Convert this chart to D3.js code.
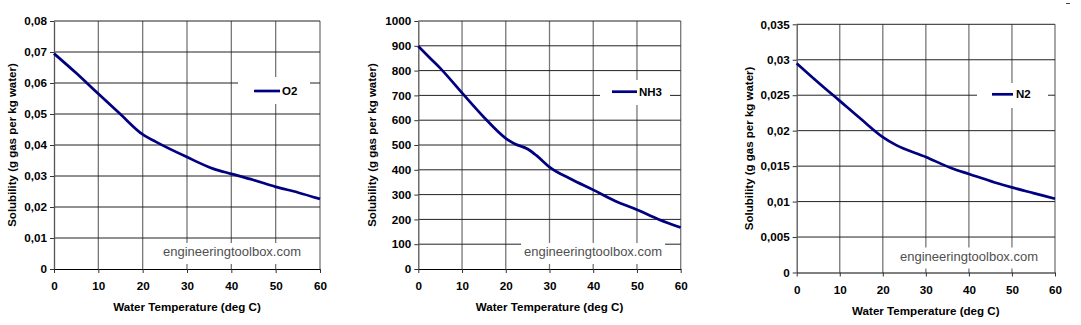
<!DOCTYPE html>
<html><head><meta charset="utf-8">
<script src="https://cdn.jsdelivr.net/npm/d3@7"></script>
<style>
html,body{margin:0;padding:0;background:#fff;}
svg{display:block;font-family:"Liberation Sans",Arial,sans-serif;}
</style></head>
<body>
<svg id="c" width="1081" height="325"></svg>
<script>
// ---------- data ----------
const xTicks = [0, 10, 20, 30, 40, 50, 60];

const tempsO2 = [0, 5, 10, 15, 20, 23, 30, 36, 40, 45, 50, 55, 60];
const valuesO2 = [0.0695, 0.0632, 0.0565, 0.0499, 0.0434, 0.0410, 0.0361, 0.0323, 0.0307, 0.0287, 0.0265, 0.0247, 0.0226];
const yTicksO2 = [0, 0.01, 0.02, 0.03, 0.04, 0.05, 0.06, 0.07, 0.08];

const tempsNH3 = [0, 3, 5, 10, 15, 20, 22, 25, 27, 30, 35, 40, 45, 50, 55, 60];
const valuesNH3 = [898, 845, 810, 710, 612, 527, 505, 484, 458, 411, 362, 319, 274, 239, 200, 167];
const yTicksNH3 = [0, 100, 200, 300, 400, 500, 600, 700, 800, 900, 1000];

const tempsN2 = [0, 5, 10, 15, 20, 23, 30, 36, 40, 46, 50, 55, 60];
const valuesN2 = [0.0295, 0.0268, 0.0242, 0.0216, 0.0191, 0.0180, 0.0163, 0.0147, 0.0139, 0.0127, 0.0120, 0.0112, 0.0104];
const yTicksN2 = [0, 0.005, 0.01, 0.015, 0.02, 0.025, 0.03, 0.035];

const seriesNames = ["O2", "NH3", "N2"];
const xTitle = "Water Temperature (deg C)";
const yTitle = "Solubility (g gas per kg water)";
const watermark = "engineeringtoolbox.com";

// ---------- layout ----------
const charts = [
  {name: seriesNames[0], temps: tempsO2, values: valuesO2, yTicks: yTicksO2,
   L: 54, R: 320, T: 21, B: 269, yTitleX: 12,
   leg: {x: 238, y: 77, w: 72, h: 27, lx1: 254, lx2: 280, ly: 91, tx: 282},
   wm: {x: 163, y: 256}},
  {name: seriesNames[1], temps: tempsNH3, values: valuesNH3, yTicks: yTicksNH3,
   L: 418.3, R: 680.7, T: 21, B: 269, yTitleX: 372,
   leg: {x: 600, y: 80, w: 70, h: 25, lx1: 612, lx2: 637, ly: 91.7, tx: 639},
   wm: {x: 524, y: 256}},
  {name: seriesNames[2], temps: tempsN2, values: valuesN2, yTicks: yTicksN2,
   L: 796.7, R: 1055, T: 24.3, B: 272.5, yTitleX: 748.5,
   leg: {x: 977, y: 83, w: 71, h: 25, lx1: 992, lx2: 1013, ly: 94.3, tx: 1016},
   wm: {x: 900, y: 260.5}}
];

const svg = d3.select("#c");
const fmt = v => String(v).replace(".", ",");

charts.forEach(c => {
  const x = d3.scaleLinear().domain([0, 60]).range([c.L, c.R]);
  const yMax = c.yTicks[c.yTicks.length - 1];
  const y = d3.scaleLinear().domain([0, yMax]).range([c.B, c.T]);
  const g = svg.append("g");

  // vertical gridlines (gray)
  g.append("g").selectAll("line").data(xTicks.slice(1)).join("line")
    .attr("x1", d => x(d)).attr("x2", d => x(d))
    .attr("y1", c.T).attr("y2", c.B)
    .attr("stroke", "#777").attr("stroke-width", 1.3);
  // horizontal gridlines (dark)
  g.append("g").selectAll("line").data(c.yTicks.slice(1)).join("line")
    .attr("x1", c.L).attr("x2", c.R)
    .attr("y1", d => y(d)).attr("y2", d => y(d))
    .attr("stroke", "#222").attr("stroke-width", 1);

  // watermark with white background
  const wmText = g.append("text").attr("x", c.wm.x).attr("y", c.wm.y)
    .attr("font-size", 13).attr("fill", "#505050").text(watermark);
  const bb = wmText.node().getBBox();
  g.insert("rect", function(){ return wmText.node(); })
    .attr("x", bb.x - 3).attr("y", c.wm.y - 13).attr("width", bb.width + 6).attr("height", 21)
    .attr("fill", "#fff");

  // axes
  const ya = g.append("g").attr("transform", `translate(${c.L},0)`)
    .call(d3.axisLeft(y).tickValues(c.yTicks).tickFormat(fmt).tickSize(4).tickSizeOuter(0));
  ya.select(".domain").attr("stroke", "#555").attr("stroke-width", 1.3);
  ya.selectAll(".tick line").attr("stroke", "#333");
  ya.selectAll(".tick text").attr("font-size", 11.7).attr("font-weight", "bold")
    .attr("fill", "#000").attr("x", -7).attr("font-family", "Liberation Sans, Arial, sans-serif");

  const xa = g.append("g").attr("transform", `translate(0,${c.B})`)
    .call(d3.axisBottom(x).tickValues(xTicks).tickSize(4).tickSizeOuter(0));
  xa.select(".domain").attr("stroke", "#000").attr("stroke-width", 1);
  xa.selectAll(".tick line").attr("stroke", "#333");
  xa.selectAll(".tick text").attr("font-size", 11.7).attr("font-weight", "bold")
    .attr("fill", "#000").attr("y", 13).attr("font-family", "Liberation Sans, Arial, sans-serif");

  // axis titles
  g.append("text").attr("x", (c.L + c.R) / 2).attr("y", c.B + 42)
    .attr("text-anchor", "middle").attr("font-size", 11.6).attr("font-weight", "bold")
    .text(xTitle);
  g.append("text").attr("transform", `translate(${c.yTitleX},${(c.T + c.B) / 2}) rotate(-90)`)
    .attr("dy", "0.35em").attr("text-anchor", "middle").attr("font-size", 11.5)
    .attr("font-weight", "bold").text(yTitle);

  // legend
  g.append("rect").attr("x", c.leg.x).attr("y", c.leg.y).attr("width", c.leg.w).attr("height", c.leg.h)
    .attr("fill", "#fff");
  g.append("line").attr("x1", c.leg.lx1).attr("x2", c.leg.lx2).attr("y1", c.leg.ly).attr("y2", c.leg.ly)
    .attr("stroke", "#000080").attr("stroke-width", 2.7);
  g.append("text").attr("x", c.leg.tx).attr("y", c.leg.ly).attr("dy", "0.36em")
    .attr("font-size", 11.5).attr("font-weight", "bold").text(c.name);

  // series line
  const pts = c.temps.map((t, i) => [t, c.values[i]]);
  g.append("path").datum(pts)
    .attr("fill", "none").attr("stroke", "#000080").attr("stroke-width", 2.7)
    .attr("stroke-linejoin", "round")
    .attr("d", d3.line().x(d => x(d[0])).y(d => y(d[1])).curve(d3.curveMonotoneX));
});

// small stray mark at top right of the source image
svg.append("line").attr("x1", 1066).attr("x2", 1070).attr("y1", 3.5).attr("y2", 3.5)
  .attr("stroke", "#444").attr("stroke-width", 1);
</script>
</body></html>
